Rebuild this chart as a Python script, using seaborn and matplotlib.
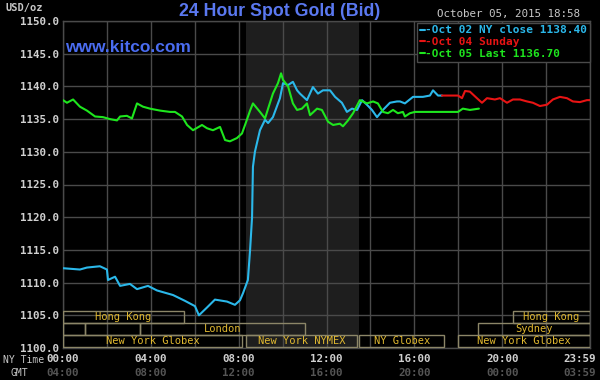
import numpy as np
import pandas as pd
import matplotlib
matplotlib.use("Agg")
import matplotlib.pyplot as plt
from matplotlib.patches import Rectangle
import seaborn as sns

# ---- data (hours since 00:00 NY time, price USD/oz) ----
oct02_hours = [0.00, 0.77, 1.09, 1.68, 2.00, 2.05, 2.37, 2.60, 3.05, 3.37, 3.87, 4.28, 5.01, 5.56,
               6.01, 6.19, 6.56, 6.92, 7.47, 7.83, 8.06, 8.20, 8.42, 8.52, 8.61, 8.65, 8.74, 8.97,
               9.20, 9.34, 9.56, 9.88, 10.02, 10.25, 10.47, 10.66, 10.79, 11.11, 11.38, 11.61,
               11.84, 12.16, 12.39, 12.70, 12.93, 13.16, 13.39, 13.62, 13.84, 14.07, 14.30, 14.57,
               14.89, 15.21, 15.35, 15.57, 15.94, 16.39, 16.71, 16.85, 17.08, 17.26]
oct02_price = [1112.2, 1112.0, 1112.3, 1112.5, 1112.0, 1110.4, 1110.9, 1109.5, 1109.8, 1109.0,
               1109.5, 1108.8, 1108.1, 1107.2, 1106.4, 1105.0, 1106.2, 1107.4, 1107.1, 1106.6,
               1107.3, 1108.4, 1110.4, 1115.0, 1120.0, 1127.7, 1130.0, 1133.3, 1134.9, 1134.4,
               1135.3, 1138.2, 1140.5, 1140.2, 1140.7, 1139.4, 1138.9, 1137.9, 1139.9, 1138.9,
               1139.4, 1139.4, 1138.4, 1137.5, 1136.1, 1136.6, 1136.4, 1137.9, 1137.2, 1136.4,
               1135.3, 1136.4, 1137.5, 1137.7, 1137.7, 1137.4, 1138.4, 1138.4, 1138.6, 1139.4,
               1138.6, 1138.6]

oct04_hours = [17.26, 17.99, 18.17, 18.31, 18.53, 18.85, 19.08, 19.31, 19.67, 19.90, 20.22, 20.49,
               20.81, 21.13, 21.40, 21.72, 22.04, 22.31, 22.63, 22.95, 23.22, 23.54, 23.86, 24.0]
oct04_price = [1138.6, 1138.6, 1138.2, 1139.3, 1139.2, 1138.2, 1137.5, 1138.2, 1138.0, 1138.2,
               1137.5, 1138.0, 1138.0, 1137.7, 1137.5, 1137.0, 1137.2, 1138.0, 1138.4, 1138.2,
               1137.7, 1137.6, 1137.9, 1137.9]

oct05_hours = [0.00, 0.18, 0.46, 0.77, 1.09, 1.46, 1.82, 2.14, 2.46, 2.60, 2.91, 3.14, 3.37, 3.64,
               3.96, 4.42, 4.87, 5.10, 5.42, 5.65, 5.92, 6.33, 6.56, 6.83, 7.15, 7.38, 7.60, 7.92,
               8.15, 8.29, 8.52, 8.65, 8.97, 9.20, 9.34, 9.56, 9.79, 9.93, 10.02, 10.25, 10.47,
               10.66, 10.88, 11.11, 11.25, 11.57, 11.79, 12.07, 12.30, 12.61, 12.75, 12.98, 13.21,
               13.52, 13.84, 14.12, 14.34, 14.57, 14.80, 15.03, 15.25, 15.48, 15.57, 15.80, 16.03,
               16.85, 17.99, 18.21, 18.53, 18.94]
oct05_price = [1137.9, 1137.5, 1138.0, 1136.9, 1136.3, 1135.4, 1135.3, 1135.0, 1134.8, 1135.4,
               1135.5, 1135.1, 1137.4, 1136.9, 1136.6, 1136.3, 1136.1, 1136.1, 1135.4, 1134.1,
               1133.3, 1134.1, 1133.6, 1133.3, 1133.8, 1131.8, 1131.6, 1132.1, 1132.8, 1134.1,
               1136.3, 1137.4, 1136.1, 1135.1, 1136.6, 1138.9, 1140.5, 1142.0, 1141.0, 1140.0,
               1137.4, 1136.4, 1136.6, 1137.4, 1135.6, 1136.6, 1136.4, 1134.6, 1134.1, 1134.3,
               1133.9, 1134.8, 1135.9, 1137.9, 1137.4, 1137.7, 1137.4, 1136.1, 1135.9, 1136.4,
               1135.9, 1136.1, 1135.4, 1135.9, 1136.1, 1136.1, 1136.1, 1136.6, 1136.4, 1136.6]

series_labels = ["-Oct 02 NY close 1138.40", "-Oct 04 Sunday", "-Oct 05 Last 1136.70"]
series_colors = ["#2bb8ea", "#e81414", "#1ee61e"]

y_ticks = [1100, 1105, 1110, 1115, 1120, 1125, 1130, 1135, 1140, 1145, 1150]
x_tick_hours = [0, 4, 8, 12, 16, 20, 23.983]
ny_time_labels = ["00:00", "04:00", "08:00", "12:00", "16:00", "20:00", "23:59"]
gmt_labels = ["04:00", "08:00", "12:00", "16:00", "20:00", "00:00", "03:59"]

nymex_floor = (8.33, 13.5)

# sessions: (start hour, end hour, row, label)
session_start = [0.0, 20.5, 0.0, 1.0, 3.5, 18.9, 0.0, 8.33, 13.5, 18.0]
session_end = [5.5, 24.0, 1.0, 3.5, 11.0, 24.0, 8.15, 13.4, 17.35, 24.0]
session_row = [0, 0, 1, 1, 1, 1, 2, 2, 2, 2]
session_name = ["Hong Kong", "Hong Kong", "", "", "London", "Sydney",
                "New York Globex", "New York NYMEX", "NY Globex", "New York Globex"]

# ---- build frame ----
df = pd.concat([
    pd.DataFrame({"hour": oct02_hours, "price": oct02_price, "series": series_labels[0]}),
    pd.DataFrame({"hour": oct04_hours, "price": oct04_price, "series": series_labels[1]}),
    pd.DataFrame({"hour": oct05_hours, "price": oct05_price, "series": series_labels[2]}),
], ignore_index=True)

sns.set_style("dark", rc={
    "axes.facecolor": "black", "figure.facecolor": "black",
    "axes.edgecolor": "#4a4a4a", "grid.color": "#4a4a4a",
})
plt.rcParams["font.family"] = ["DejaVu Sans"]

W, H = 600, 380
fig = plt.figure(figsize=(6, 3.8), dpi=100)
ax = fig.add_axes([63 / W, 1 - 348 / H, 527 / W, 327 / H])
ax.set_facecolor("black")

ax.axvspan(nymex_floor[0], nymex_floor[1], color="#1e1e1e", zorder=0, lw=0)

sns.lineplot(data=df, x="hour", y="price", hue="series", palette=series_colors,
             hue_order=series_labels, ax=ax, lw=1.5, estimator=None, sort=False, zorder=3)

ax.set_xlim(0, 24)
ax.set_ylim(1100, 1150)
ax.set_yticks(y_ticks)
ax.set_yticklabels([f"{v:.1f}" for v in y_ticks])
ax.set_xticks(np.arange(0, 24.01, 2))
ax.set_xticklabels([])
ax.grid(True, color="#4a4a4a", lw=1.0)
ax.set_axisbelow(True)
for s in ax.spines.values():
    s.set_color("#4a4a4a")
    s.set_linewidth(1.0)
ax.tick_params(axis="both", length=0, pad=3)
ax.tick_params(axis="y", colors="#d0d0d0", labelsize=7.8)
for lab in ax.get_yticklabels():
    lab.set_family("DejaVu Sans Mono")
    lab.set_fontweight("bold")
ax.set_xlabel("")
ax.set_ylabel("")

# x labels (two rows)
for i, (h, a, b) in enumerate(zip(x_tick_hours, ny_time_labels, gmt_labels)):
    last = i == len(x_tick_hours) - 1
    ha = "right" if last else "center"
    xoff = 0.012 if last else 0.0
    ax.text(h / 24 + xoff, -0.035, a, transform=ax.transAxes, ha=ha, va="center",
            color="#d0d0d0", fontsize=7.8, family="DejaVu Sans Mono", fontweight="bold")
    ax.text(h / 24 + xoff, -0.075, b, transform=ax.transAxes, ha=ha, va="center",
            color="#555555", fontsize=7.8, family="DejaVu Sans Mono", fontweight="bold")
fig.text(44 / W, 1 - 360 / H, "NY Time", ha="right", va="center", color="#c8c8c8",
         fontsize=7, family="DejaVu Sans Mono")
fig.text(28 / W, 1 - 373 / H, "GMT", ha="right", va="center", color="#c8c8c8",
         fontsize=7, family="DejaVu Sans Mono")

# sessions
row_h = 1.8
row_top = 1105.6
for s, e, r, name in zip(session_start, session_end, session_row, session_name):
    y0 = row_top - (r + 1) * row_h
    ax.add_patch(Rectangle((s, y0), e - s, row_h, fill=False, edgecolor="#8c8668",
                           lw=1.0, zorder=4))
    if name:
        ax.text((s + e) / 2, y0 + row_h / 2, name, ha="center", va="center",
                color="#e0b830", fontsize=7.5, family="DejaVu Sans Mono", zorder=5)

# legend
handles, labels = ax.get_legend_handles_labels()
leg = ax.legend(handles, labels, loc="upper right", bbox_to_anchor=(1.0, 0.995),
                borderaxespad=0, frameon=True, fancybox=False, handlelength=0.45,
                handletextpad=0.05, labelspacing=0.15, borderpad=0.25,
                prop={"family": "DejaVu Sans Mono", "size": 8, "weight": "bold"},
                labelcolor="linecolor")
leg.get_frame().set_facecolor("black")
leg.get_frame().set_edgecolor("#4a4a4a")
leg.get_frame().set_alpha(1)
leg.set_zorder(6)

# header texts
fig.text(5 / W, 1 - 8 / H, "USD/oz", ha="left", va="center", color="#c8c8c8",
         fontsize=7.5, family="DejaVu Sans Mono", fontweight="bold")
fig.text(280 / W, 1 - 11 / H, "24 Hour Spot Gold (Bid)", ha="center", va="center",
         color="#5a78f0", fontsize=12.8, family="Liberation Sans", fontweight="bold")
fig.text(580 / W, 1 - 14 / H, "October 05, 2015 18:58", ha="right", va="center",
         color="#c8c8c8", fontsize=7.8, family="DejaVu Sans Mono")
ax.text(0.004, 0.92, "www.kitco.com", transform=ax.transAxes, ha="left", va="center",
        color="#4a6cf0", fontsize=12.5, family="Liberation Sans", fontweight="bold")

fig.savefig("out.png", dpi=100, facecolor="black")
